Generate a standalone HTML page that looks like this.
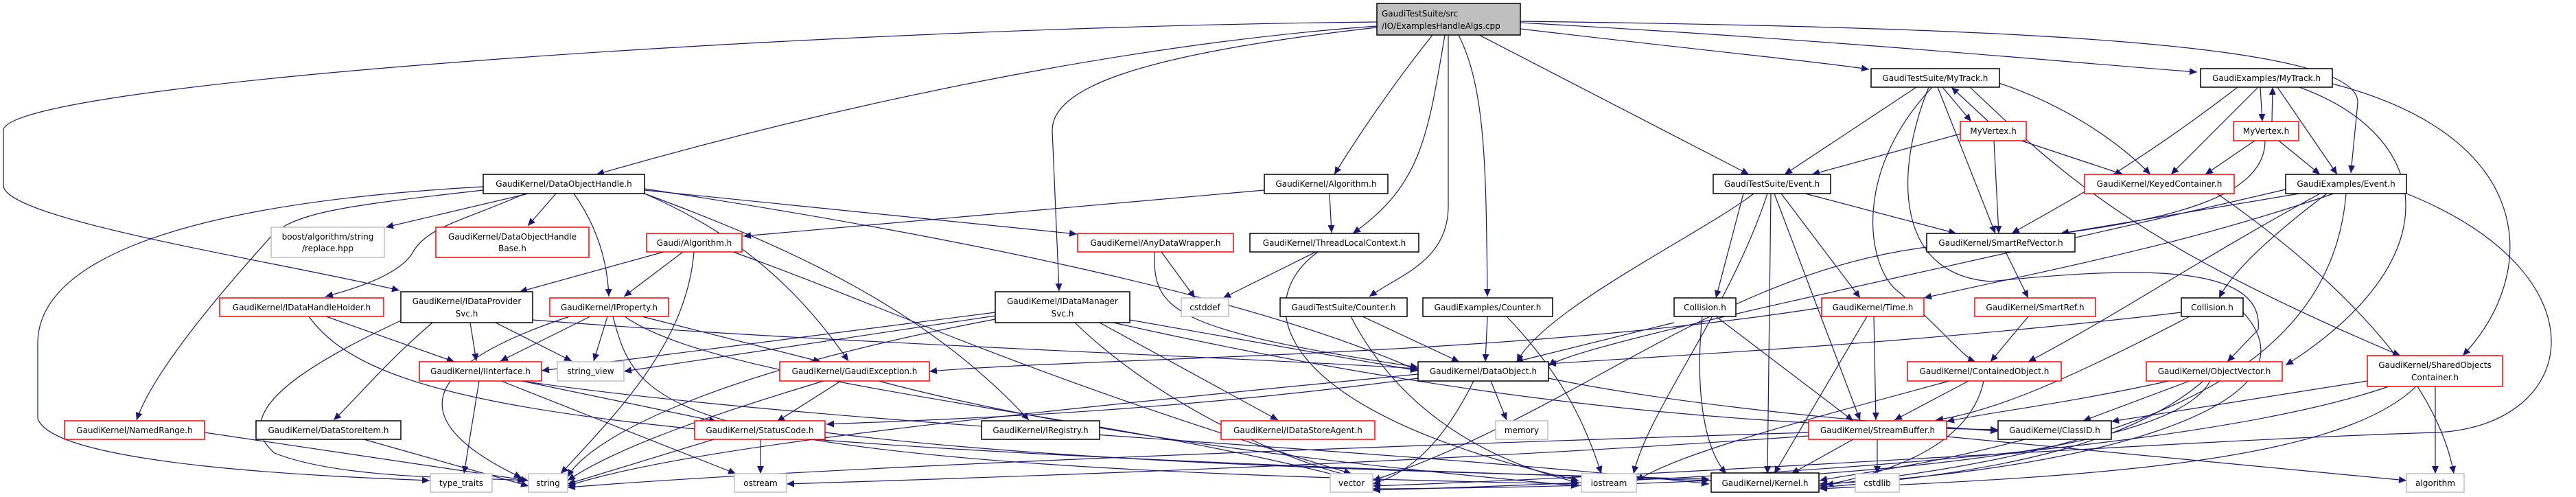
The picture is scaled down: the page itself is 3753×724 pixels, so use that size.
<!DOCTYPE html>
<html><head><meta charset="utf-8"><style>
html,body{margin:0;padding:0;background:#fff;}
svg{display:block;}
text{font-family:"DejaVu Sans","Liberation Sans",sans-serif;font-size:12px;fill:#000;}
.e{fill:none;stroke:#191970;stroke-width:1.2;marker-end:url(#a);}
.n rect{fill:#fff;stroke-width:1.5;}
.k rect{stroke:#000;}
.r rect{stroke:#ff0000;}
.g rect{stroke:#bfbfbf;}
</style></head><body>
<svg width="3753" height="724" viewBox="0 0 3753 724" xmlns="http://www.w3.org/2000/svg">
<defs><marker id="a" markerUnits="userSpaceOnUse" markerWidth="12" markerHeight="10" refX="11" refY="5" orient="auto"><path d="M0,0 L11,5 L0,10 z" fill="#191970"/></marker></defs>
<g>
<path class="e" d="M2006,38 C1700,60 1300,130 869,254"/>
<path class="e" d="M2006,32 C1200,40 5,120 5,190 L5,270 C5,320 400,380 582,423"/>
<path class="e" d="M2006,40 C1650,80 1533,130 1533,190 L1543,424"/>
<path class="e" d="M2087,51 C2040,110 1990,180 1944,254"/>
<path class="e" d="M2105,51 C2080,200 2070,270 1971,340"/>
<path class="e" d="M2110,51 L2110,300 C2110,380 2040,400 1995,432"/>
<path class="e" d="M2125,51 C2165,130 2165,250 2167,432"/>
<path class="e" d="M2155,51 L2548,254"/>
<path class="e" d="M2215,42 C2450,70 2650,90 2723,101"/>
<path class="e" d="M2215,33 C2700,60 3000,90 3201,105"/>
<path class="e" d="M2215,31 C2900,40 3440,60 3435,150 L3425,252"/>
<path class="e" d="M770,282 L562,331"/>
<path class="e" d="M810,282 L769,329"/>
<path class="e" d="M836,282 C870,330 885,380 887,432"/>
<path class="e" d="M765,282 C680,320 620,330 600,370 C580,400 520,420 474,432"/>
<path class="e" d="M704,277 C500,300 420,310 390,350 C300,450 220,550 199,612"/>
<path class="e" d="M704,272 C200,300 55,400 55,500 L55,610 C80,680 500,695 626,700"/>
<path class="e" d="M939,282 C1050,330 1150,400 1236,526"/>
<path class="e" d="M939,282 C1150,360 1350,450 1499,612"/>
<path class="e" d="M939,277 L1569,341"/>
<path class="e" d="M939,275 C1300,330 1800,420 2066,540"/>
<path class="e" d="M967,367 L757,425"/>
<path class="e" d="M995,367 L909,432"/>
<path class="e" d="M1011,367 C1000,500 900,600 817,690"/>
<path class="e" d="M1068,367 C1300,450 1500,550 1969,690"/>
<path class="e" d="M1842,277 L1083,344"/>
<path class="e" d="M1937,282 L1940,339"/>
<path class="e" d="M475,461 L662,527"/>
<path class="e" d="M450,461 C550,600 900,650 2490,700"/>
<path class="e" d="M685,470 L694,526"/>
<path class="e" d="M722,470 L833,526"/>
<path class="e" d="M630,470 C560,530 520,580 486,612"/>
<path class="e" d="M584,467 C450,530 330,600 400,660 C500,700 700,695 765,700"/>
<path class="e" d="M776,466 C1200,500 1800,520 2066,537"/>
<path class="e" d="M860,461 L729,526"/>
<path class="e" d="M885,461 L865,526"/>
<path class="e" d="M830,461 C590,540 600,620 760,696"/>
<path class="e" d="M935,461 L1196,527"/>
<path class="e" d="M910,461 C1050,560 1600,600 1969,698"/>
<path class="e" d="M893,461 C930,600 960,680 2300,705"/>
<path class="e" d="M698,555 L676,690"/>
<path class="e" d="M760,555 L1044,614"/>
<path class="e" d="M730,555 L1072,690"/>
<path class="e" d="M760,555 C1200,620 2000,650 2490,705"/>
<path class="e" d="M1225,555 L1132,614"/>
<path class="e" d="M1200,555 C1050,600 900,650 827,700"/>
<path class="e" d="M1280,555 C1600,640 2000,680 2300,708"/>
<path class="e" d="M1108,640 L1108,690"/>
<path class="e" d="M1040,640 L827,705"/>
<path class="e" d="M1202,630 C1600,680 2200,690 2490,698"/>
<path class="e" d="M298,630 L770,700"/>
<path class="e" d="M530,640 L770,708"/>
<path class="e" d="M1450,460 L909,541"/>
<path class="e" d="M1450,455 L789,540"/>
<path class="e" d="M1450,465 C1000,550 850,650 827,695"/>
<path class="e" d="M1646,466 L2066,540"/>
<path class="e" d="M1566,470 C1700,600 1900,680 1969,693"/>
<path class="e" d="M1602,470 L1862,612"/>
<path class="e" d="M1622,470 C2200,600 2600,620 2911,626"/>
<path class="e" d="M1692,367 L1741,434"/>
<path class="e" d="M1682,367 C1680,450 1700,480 2066,535"/>
<path class="e" d="M1917,367 L1782,434"/>
<path class="e" d="M1920,367 C1820,440 1850,600 2300,700"/>
<path class="e" d="M1985,461 L2126,527"/>
<path class="e" d="M1968,461 C2050,620 2200,680 2300,703"/>
<path class="e" d="M2167,461 L2164,527"/>
<path class="e" d="M2195,461 C2280,550 2310,620 2333,690"/>
<path class="e" d="M2439,470 L2208,527"/>
<path class="e" d="M2500,461 L2700,613"/>
<path class="e" d="M2480,461 C2470,560 2480,650 2515,690"/>
<path class="e" d="M2172,555 L2195,612"/>
<path class="e" d="M2147,555 C2100,650 2050,690 2000,705"/>
<path class="e" d="M2066,551 C1700,600 1400,610 1204,618"/>
<path class="e" d="M2256,551 C2500,600 2800,620 2911,628"/>
<path class="e" d="M2066,545 C1500,600 1000,650 827,708"/>
<path class="e" d="M2540,282 L2500,434"/>
<path class="e" d="M2595,282 L2710,434"/>
<path class="e" d="M2630,282 L2850,340"/>
<path class="e" d="M2580,282 L2575,690"/>
<path class="e" d="M2585,282 L2710,612"/>
<path class="e" d="M2555,282 C2480,340 2250,450 2210,527"/>
<path class="e" d="M2575,282 C2520,450 2400,600 2380,690"/>
<path class="e" d="M2792,127 L2600,254"/>
<path class="e" d="M2830,127 L2872,177"/>
<path class="e" d="M2897,177 L2843,127"/>
<path class="e" d="M2823,127 L2907,340"/>
<path class="e" d="M2912,121 C3000,150 3080,200 3133,254"/>
<path class="e" d="M2815,127 C2700,250 2720,380 2760,420 C2820,470 2860,520 2878,527"/>
<path class="e" d="M2870,127 C3000,250 3100,350 3497,518"/>
<path class="e" d="M2810,127 C2760,250 2760,400 2900,410 C3100,390 3300,380 3290,480 L3245,527"/>
<path class="e" d="M2856,195 L2640,254"/>
<path class="e" d="M2905,205 L2912,340"/>
<path class="e" d="M2945,205 L3093,254"/>
<path class="e" d="M3293,127 L3296,177"/>
<path class="e" d="M3310,177 L3311,127"/>
<path class="e" d="M3260,127 C3100,250 3000,300 2931,340"/>
<path class="e" d="M3290,127 L3163,254"/>
<path class="e" d="M3318,127 L3405,254"/>
<path class="e" d="M3350,127 C3550,200 3570,380 3330,532"/>
<path class="e" d="M3398,122 C3700,200 3700,400 3588,518"/>
<path class="e" d="M3285,205 L3213,254"/>
<path class="e" d="M3320,205 L3380,254"/>
<path class="e" d="M3300,205 C3300,290 3150,320 3002,340"/>
<path class="e" d="M3350,282 L3003,340"/>
<path class="e" d="M3400,282 C3200,350 3050,380 2803,434"/>
<path class="e" d="M3390,282 C3300,350 3250,400 3233,434"/>
<path class="e" d="M3330,276 C2800,400 2300,500 2256,533"/>
<path class="e" d="M3380,282 C3200,380 3100,450 2955,527"/>
<path class="e" d="M3418,282 C3400,500 3200,650 2660,706"/>
<path class="e" d="M3506,282 C3800,400 3760,620 3550,630 C3200,640 2500,690 2000,708"/>
<path class="e" d="M2922,367 L2955,434"/>
<path class="e" d="M2807,360 C2500,400 2300,600 2000,700"/>
<path class="e" d="M2955,461 L2900,527"/>
<path class="e" d="M2730,461 L2733,612"/>
<path class="e" d="M2720,461 L2585,690"/>
<path class="e" d="M2654,448 C2200,520 1600,520 1354,541"/>
<path class="e" d="M3178,455 C2800,500 2400,520 2256,530"/>
<path class="e" d="M3190,461 C3000,560 2900,600 2820,612"/>
<path class="e" d="M3268,455 C3400,600 3000,690 2651,705"/>
<path class="e" d="M2868,555 L2760,612"/>
<path class="e" d="M2890,555 C2870,650 2750,690 2651,708"/>
<path class="e" d="M2840,555 C2600,620 2450,660 2384,700"/>
<path class="e" d="M3190,555 L3035,613"/>
<path class="e" d="M3160,555 C3000,590 2900,600 2836,614"/>
<path class="e" d="M3210,555 C3100,650 2900,690 2651,710"/>
<path class="e" d="M3220,555 C3150,690 2400,710 2000,712"/>
<path class="e" d="M3449,555 L3076,614"/>
<path class="e" d="M3548,563 L3548,690"/>
<path class="e" d="M3520,563 C3400,680 3000,695 2651,712"/>
<path class="e" d="M3480,563 C3200,660 2500,700 2000,714"/>
<path class="e" d="M2735,640 L2735,690"/>
<path class="e" d="M2700,640 L2610,690"/>
<path class="e" d="M2836,636 L3506,700"/>
<path class="e" d="M2635,630 C2000,650 1200,680 827,710"/>
<path class="e" d="M2635,635 C2000,680 1300,700 1146,705"/>
<path class="e" d="M2950,640 C2800,680 2700,690 2651,700"/>
<path class="e" d="M3230,282 C3400,400 3550,550 3575,690"/>
</g>
<g class="n k"><rect x="2006" y="5" width="209" height="46" style="fill:#bfbfbf"/><text x="2013" y="24">GaudiTestSuite/src</text><text x="2013" y="42">/IO/ExamplesHandleAlgs.cpp</text></g>
<g class="n k"><rect x="704" y="254" width="235" height="28"/><text x="821.5" y="272" text-anchor="middle">GaudiKernel/DataObjectHandle.h</text></g>
<g class="n g"><rect x="395" y="331" width="165" height="44"/><text x="477.5" y="349" text-anchor="middle">boost/algorithm/string</text><text x="477.5" y="366" text-anchor="middle">/replace.hpp</text></g>
<g class="n r"><rect x="635" y="331" width="223" height="44"/><text x="746.5" y="349" text-anchor="middle">GaudiKernel/DataObjectHandle</text><text x="746.5" y="366" text-anchor="middle">Base.h</text></g>
<g class="n r"><rect x="942" y="340" width="139" height="27"/><text x="1011.5" y="358" text-anchor="middle">Gaudi/Algorithm.h</text></g>
<g class="n r"><rect x="320" y="434" width="239" height="27"/><text x="439.5" y="452" text-anchor="middle">GaudiKernel/IDataHandleHolder.h</text></g>
<g class="n k"><rect x="584" y="425" width="192" height="45"/><text x="680" y="443" text-anchor="middle">GaudiKernel/IDataProvider</text><text x="680" y="461" text-anchor="middle">Svc.h</text></g>
<g class="n r"><rect x="801" y="434" width="173" height="27"/><text x="887.5" y="452" text-anchor="middle">GaudiKernel/IProperty.h</text></g>
<g class="n r"><rect x="611" y="527" width="178" height="28"/><text x="700" y="545" text-anchor="middle">GaudiKernel/IInterface.h</text></g>
<g class="n g"><rect x="812" y="527" width="97" height="28"/><text x="860.5" y="545" text-anchor="middle">string_view</text></g>
<g class="n r"><rect x="1136" y="527" width="218" height="28"/><text x="1245" y="545" text-anchor="middle">GaudiKernel/GaudiException.h</text></g>
<g class="n r"><rect x="94" y="613" width="204" height="27"/><text x="196" y="631" text-anchor="middle">GaudiKernel/NamedRange.h</text></g>
<g class="n k"><rect x="373" y="613" width="211" height="27"/><text x="478.5" y="631" text-anchor="middle">GaudiKernel/DataStoreItem.h</text></g>
<g class="n r"><rect x="1012" y="613" width="190" height="27"/><text x="1107" y="631" text-anchor="middle">GaudiKernel/StatusCode.h</text></g>
<g class="n g"><rect x="627" y="690" width="90" height="27"/><text x="672" y="708" text-anchor="middle">type_traits</text></g>
<g class="n g"><rect x="770" y="690" width="57" height="27"/><text x="798.5" y="708" text-anchor="middle">string</text></g>
<g class="n g"><rect x="1070" y="690" width="76" height="27"/><text x="1108" y="708" text-anchor="middle">ostream</text></g>
<g class="n k"><rect x="1842" y="254" width="180" height="28"/><text x="1932" y="272" text-anchor="middle">GaudiKernel/Algorithm.h</text></g>
<g class="n r"><rect x="1570" y="340" width="227" height="27"/><text x="1683.5" y="358" text-anchor="middle">GaudiKernel/AnyDataWrapper.h</text></g>
<g class="n k"><rect x="1821" y="340" width="246" height="27"/><text x="1944" y="358" text-anchor="middle">GaudiKernel/ThreadLocalContext.h</text></g>
<g class="n k"><rect x="1450" y="425" width="196" height="45"/><text x="1548" y="443" text-anchor="middle">GaudiKernel/IDataManager</text><text x="1548" y="461" text-anchor="middle">Svc.h</text></g>
<g class="n g"><rect x="1721" y="434" width="69" height="27"/><text x="1755.5" y="452" text-anchor="middle">cstddef</text></g>
<g class="n k"><rect x="1865" y="434" width="185" height="27"/><text x="1957.5" y="452" text-anchor="middle">GaudiTestSuite/Counter.h</text></g>
<g class="n k"><rect x="2073" y="434" width="189" height="27"/><text x="2167.5" y="452" text-anchor="middle">GaudiExamples/Counter.h</text></g>
<g class="n k"><rect x="2439" y="434" width="90" height="27"/><text x="2484" y="452" text-anchor="middle">Collision.h</text></g>
<g class="n k"><rect x="2066" y="527" width="190" height="28"/><text x="2161" y="545" text-anchor="middle">GaudiKernel/DataObject.h</text></g>
<g class="n k"><rect x="1430" y="613" width="172" height="27"/><text x="1516" y="631" text-anchor="middle">GaudiKernel/IRegistry.h</text></g>
<g class="n r"><rect x="1779" y="613" width="224" height="27"/><text x="1891" y="631" text-anchor="middle">GaudiKernel/IDataStoreAgent.h</text></g>
<g class="n g"><rect x="2179" y="613" width="76" height="27"/><text x="2217" y="631" text-anchor="middle">memory</text></g>
<g class="n g"><rect x="1938" y="690" width="62" height="27"/><text x="1969" y="708" text-anchor="middle">vector</text></g>
<g class="n g"><rect x="2304" y="690" width="80" height="27"/><text x="2344" y="708" text-anchor="middle">iostream</text></g>
<g class="n k"><rect x="2493" y="689" width="157" height="28"/><text x="2571.5" y="708" text-anchor="middle">GaudiKernel/Kernel.h</text></g>
<g class="n k"><rect x="2726" y="100" width="187" height="27"/><text x="2819.5" y="118" text-anchor="middle">GaudiTestSuite/MyTrack.h</text></g>
<g class="n k"><rect x="3206" y="100" width="192" height="27"/><text x="3302" y="118" text-anchor="middle">GaudiExamples/MyTrack.h</text></g>
<g class="n r"><rect x="2856" y="177" width="96" height="28"/><text x="2904" y="195" text-anchor="middle">MyVertex.h</text></g>
<g class="n r"><rect x="3254" y="177" width="95" height="28"/><text x="3301.5" y="195" text-anchor="middle">MyVertex.h</text></g>
<g class="n k"><rect x="2496" y="254" width="171" height="28"/><text x="2581.5" y="272" text-anchor="middle">GaudiTestSuite/Event.h</text></g>
<g class="n r"><rect x="3037" y="254" width="218" height="28"/><text x="3146" y="272" text-anchor="middle">GaudiKernel/KeyedContainer.h</text></g>
<g class="n k"><rect x="3330" y="254" width="176" height="28"/><text x="3418" y="272" text-anchor="middle">GaudiExamples/Event.h</text></g>
<g class="n k"><rect x="2807" y="340" width="216" height="27"/><text x="2915" y="358" text-anchor="middle">GaudiKernel/SmartRefVector.h</text></g>
<g class="n r"><rect x="2654" y="434" width="149" height="27"/><text x="2728.5" y="452" text-anchor="middle">GaudiKernel/Time.h</text></g>
<g class="n r"><rect x="2877" y="434" width="176" height="27"/><text x="2965" y="452" text-anchor="middle">GaudiKernel/SmartRef.h</text></g>
<g class="n k"><rect x="3178" y="434" width="90" height="27"/><text x="3223" y="452" text-anchor="middle">Collision.h</text></g>
<g class="n r"><rect x="2779" y="527" width="224" height="28"/><text x="2891" y="545" text-anchor="middle">GaudiKernel/ContainedObject.h</text></g>
<g class="n r"><rect x="3127" y="527" width="198" height="28"/><text x="3226" y="545" text-anchor="middle">GaudiKernel/ObjectVector.h</text></g>
<g class="n r"><rect x="3449" y="518" width="197" height="45"/><text x="3547.5" y="536" text-anchor="middle">GaudiKernel/SharedObjects</text><text x="3547.5" y="554" text-anchor="middle">Container.h</text></g>
<g class="n r"><rect x="2635" y="613" width="201" height="27"/><text x="2735.5" y="631" text-anchor="middle">GaudiKernel/StreamBuffer.h</text></g>
<g class="n k"><rect x="2911" y="613" width="165" height="27"/><text x="2993.5" y="631" text-anchor="middle">GaudiKernel/ClassID.h</text></g>
<g class="n g"><rect x="2703" y="690" width="64" height="27"/><text x="2735" y="708" text-anchor="middle">cstdlib</text></g>
<g class="n g"><rect x="3506" y="690" width="84" height="27"/><text x="3548" y="708" text-anchor="middle">algorithm</text></g>
</svg>
</body></html>
